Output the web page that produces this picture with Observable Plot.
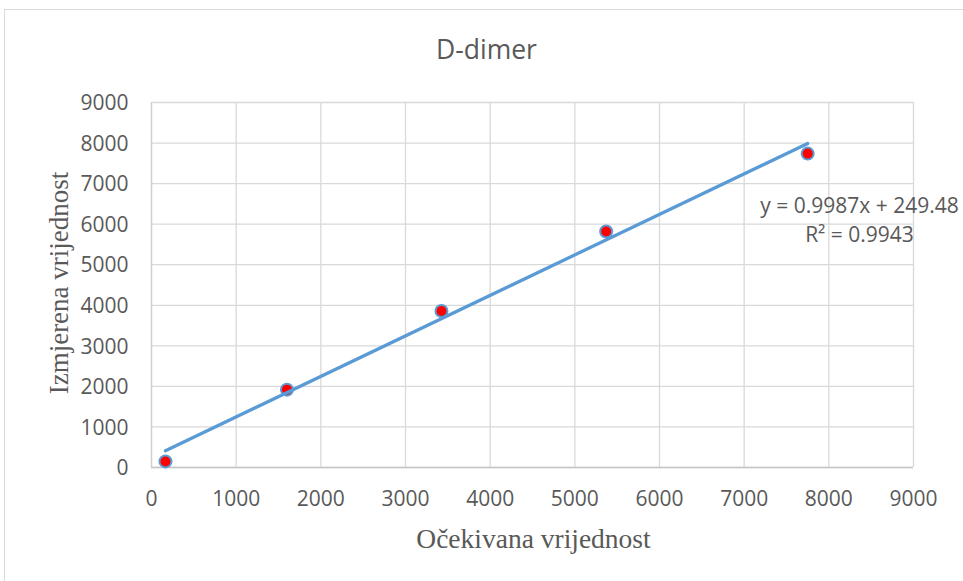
<!DOCTYPE html>
<html>
<head>
<meta charset="utf-8">
<script src="https://cdn.jsdelivr.net/npm/d3@7"></script>
<script src="https://cdn.jsdelivr.net/npm/@observablehq/plot@0.6"></script>
<style>
  html, body { margin: 0; padding: 0; background: #fff; overflow: hidden; }
  #wrap { position: relative; width: 963px; height: 581px; }
  #border { position: absolute; left: 4px; top: 9px; width: 1000px; height: 700px; border: 1.3px solid #d9d9d9; box-sizing: border-box; }
  #chart { position: absolute; left: 0; top: 0; }
</style>
</head>
<body>
<div id="wrap"><div id="border"></div><div id="chart"></div></div>
<script>
const title = "D-dimer";
const xLabel = "Očekivana vrijednost";
const yLabel = "Izmjerena vrijednost";
const expected = [165, 1600, 3425, 5370, 7750];
const measured = [150, 1920, 3860, 5820, 7740];
const xTicks = [0, 1000, 2000, 3000, 4000, 5000, 6000, 7000, 8000, 9000];
const yTicks = [0, 1000, 2000, 3000, 4000, 5000, 6000, 7000, 8000, 9000];
const slope = 0.9987;
const intercept = 249.48;
const rSquared = 0.9943;
const equationLines = ["y = 0.9987x + 249.48", "R² = 0.9943"];

const points = expected.map((x, i) => ({x, y: measured[i]}));
const xExt = d3.extent(expected);
const trend = xExt.map(x => ({x, y: slope * x + intercept}));

const textColor = "#595959";
const blue = "#5b9bd5";

const chart = Plot.plot({
  width: 963,
  height: 581,
  marginLeft: 151,
  marginRight: 50,
  marginTop: 102,
  marginBottom: 114,
  style: {fontFamily: "'Open Sans', sans-serif", background: "transparent", color: textColor},
  x: {domain: [0, 9000], axis: null},
  y: {domain: [0, 9000], axis: null},
  marks: [
    Plot.gridX(xTicks, {stroke: "#d9d9d9", strokeOpacity: 1, strokeWidth: 1.3}),
    Plot.gridY(yTicks, {stroke: "#d9d9d9", strokeOpacity: 1, strokeWidth: 1.3}),
    Plot.ruleY([0], {stroke: "#c6c6c6", strokeWidth: 1.3}),
    Plot.ruleX([0], {stroke: "#d0d0d0", strokeWidth: 1.3}),
    Plot.text(xTicks, {x: d => d, frameAnchor: "bottom", dy: 32, lineAnchor: "middle", text: d => String(d), fontSize: 21, fill: textColor}),
    Plot.text(yTicks, {y: d => d, frameAnchor: "left", textAnchor: "end", dx: -23, dy: 1, lineAnchor: "middle", text: d => String(d), fontSize: 21, fill: textColor}),
    Plot.dot(points, {x: "x", y: "y", r: 6, fill: "#ff0000", stroke: blue, strokeWidth: 2}),
    Plot.line(trend, {x: "x", y: "y", stroke: blue, strokeWidth: 3.3}),
    Plot.text([equationLines[0]], {frameAnchor: "top-right", textAnchor: "middle", lineAnchor: "bottom", dx: -54, dy: 110, text: d => d, fontSize: 21, fill: textColor}),
    Plot.text([equationLines[1]], {frameAnchor: "top-right", textAnchor: "middle", lineAnchor: "bottom", dx: -54, dy: 139, text: d => d, fontSize: 21, fill: textColor}),
    Plot.text([title], {frameAnchor: "top", lineAnchor: "bottom", dx: -46, dy: -44, text: d => d, fontSize: 26.5, fill: textColor}),
    Plot.text([xLabel], {frameAnchor: "bottom", lineAnchor: "bottom", dx: 1, dy: 80, text: d => d, fontSize: 27.5, fontFamily: "'Liberation Serif', serif", fill: textColor}),
    Plot.text([yLabel], {frameAnchor: "left", textAnchor: "middle", lineAnchor: "bottom", rotate: -90, dx: -84, dy: -2, text: d => d, fontSize: 27, fontFamily: "'Liberation Serif', serif", fill: textColor})
  ]
});
document.getElementById("chart").appendChild(chart);
</script>
</body>
</html>
